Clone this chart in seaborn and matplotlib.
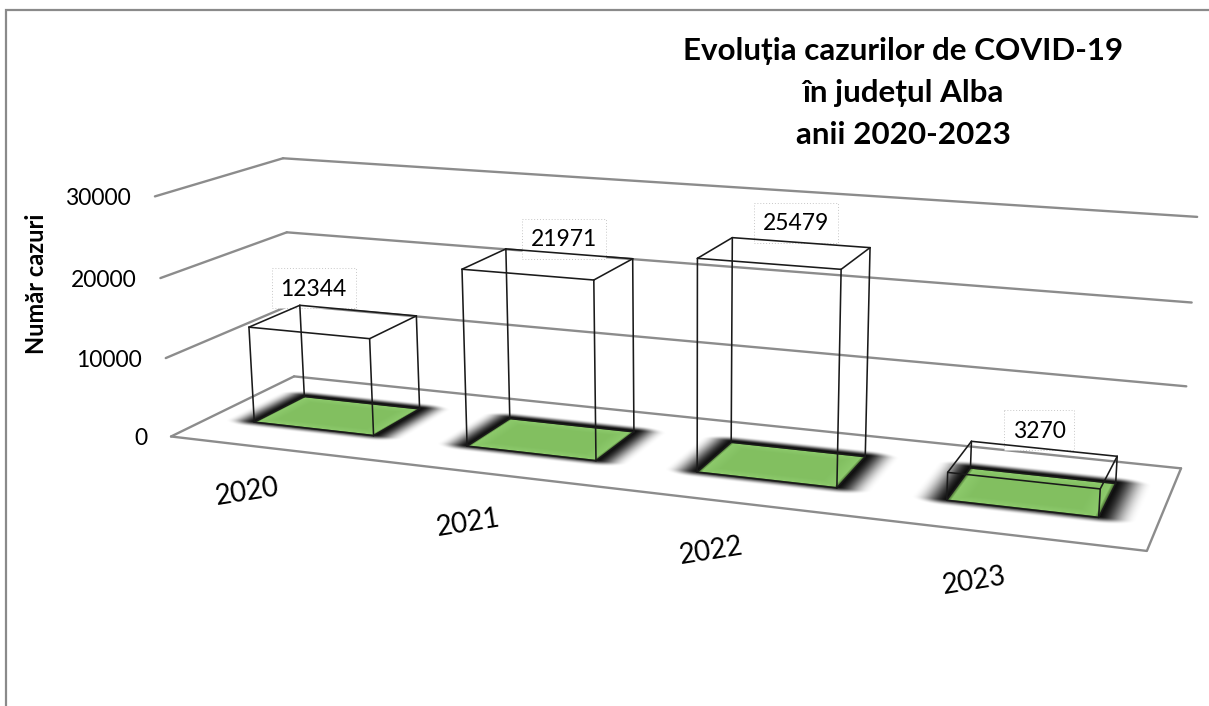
import numpy as np
import pandas as pd
import matplotlib
matplotlib.use('Agg')
import matplotlib.pyplot as plt
from matplotlib.patches import Rectangle
import seaborn as sns

# chart data
YEARS = ['2020', '2021', '2022', '2023']
CASES = [12344, 21971, 25479, 3270]
AXIS_TICKS = [0, 10000, 20000, 30000]
AXIS_MAX = 30000
TITLE_LINES = ['Evoluția cazurilor de COVID-19', 'în județul Alba', 'anii 2020-2023']
Y_LABEL = 'Număr cazuri'

# layout: where the corners of the 3D box sit in the image (u, v, height share, px, py)
BOX_CORNERS = [
    (0, 0, 1, 155, 197), (0, 0, 2 / 3, 160, 278), (0, 0, 1 / 3, 166, 358), (0, 0, 0, 171, 436),
    (0, 1, 1, 283, 158), (0, 1, 2 / 3, 287, 232), (0, 1, 0, 294, 377),
    (4, 1, 1, 1197, 217), (4, 1, 2 / 3, 1192, 302), (4, 1, 1 / 3, 1186, 387), (4, 1, 0, 1181, 468),
    (4, 0, 0, 1147, 551),
]
BAR_HALF_WIDTH = 0.285
BAR_DEPTH = (0.30, 0.72)
LABEL_OFFSETS = [(-20, -33), (16, -25), (11, -30), (6, -34)]
TICK_POS = [(247, 492), (468, 523), (711, 551), (974, 581)]
TITLE_Y = [51, 93, 135]

GRID_COLOR = '#8c8c8c'
WIRE_COLOR = '#1a1a1a'
GREEN = np.array([0.51, 0.75, 0.38])
GREEN_LIGHT = np.array([0.55, 0.79, 0.42])
GREEN_DARK = np.array([0.24, 0.38, 0.15])
FONT = 'Lato'


def fit_camera(corners):
    rows, rhs = [], []
    for u, v, h, px, py in corners:
        rows.append([u, v, h, 1, 0, 0, 0, 0, -px * u, -px * v, -px * h])
        rhs.append(px)
        rows.append([0, 0, 0, 0, u, v, h, 1, -py * u, -py * v, -py * h])
        rhs.append(py)
    sol = np.linalg.lstsq(np.array(rows, float), np.array(rhs, float), rcond=None)[0]
    return np.append(sol, 1.0).reshape(3, 4)


CAM = fit_camera(BOX_CORNERS)


def project(u, v, value):
    p = CAM @ np.array([u, v, value / AXIS_MAX, 1.0])
    return p[0] / p[2], p[1] / p[2]


def edges_frame(segments):
    # long table for sns.lineplot, one unit per drawn edge
    recs = []
    for i, seg in enumerate(segments):
        for order, pt in enumerate(seg):
            px, py = project(*pt)
            recs.append({'edge': i, 'order': order, 'px': px, 'py': py})
    return pd.DataFrame(recs)


def floor_image(width, height):
    # shadow + green base of the bars, rendered in floor coordinates
    xx, yy = np.meshgrid(np.arange(width) + 0.5, np.arange(height) + 0.5)
    inv = np.linalg.inv(CAM[:, [0, 1, 3]])
    w = inv[2, 0] * xx + inv[2, 1] * yy + inv[2, 2]
    u = (inv[0, 0] * xx + inv[0, 1] * yy + inv[0, 2]) / w
    v = (inv[1, 0] * xx + inv[1, 1] * yy + inv[1, 2]) / w

    img = np.zeros((height, width, 4))
    vc = sum(BAR_DEPTH) / 2
    hd = (BAR_DEPTH[1] - BAR_DEPTH[0]) / 2
    for i in range(len(YEARS)):
        du = np.abs(u - (i + 0.5)) - BAR_HALF_WIDTH
        dv = np.abs(v - vc) - hd
        # shadow box sits a little towards the back and is softer along the width
        dvs = np.abs(v - (vc + 0.012)) - hd
        dist = np.hypot(np.clip(du, 0, None) / 1.7, np.clip(dvs, 0, None))
        t = np.clip(dist / 0.085, 0, 1)
        alpha = 0.95 * (1 - t * t * (3 - 2 * t)) ** 1.3
        outside = (du > 0) | (dv > 0)
        img[..., 3][outside] = np.maximum(img[..., 3][outside], alpha[outside])

        inside = ~outside
        inset = np.minimum(-du, -dv)[inside]
        a = np.clip(inset / 0.016, 0, 1)[:, None]
        b = np.clip((inset - 0.016) / 0.06, 0, 1)[:, None]
        col = (GREEN_DARK * (1 - a) + GREEN_LIGHT * a) * (1 - b) + GREEN * b
        img[inside, 0] = col[:, 0]
        img[inside, 1] = col[:, 1]
        img[inside, 2] = col[:, 2]
        img[inside, 3] = 1.0
    return img


def main():
    sns.set_theme(style='white')
    plt.rcParams['font.family'] = [FONT, 'DejaVu Sans']

    W, H = 1209, 706
    fig = plt.figure(figsize=(W / 100, H / 100), dpi=100)
    ax = fig.add_axes([0, 0, 1, 1])

    # outer frame of the chart, only left and top are visible
    ax.plot([6, 6, W], [H, 10, 10], color='#8a8a8a', lw=1.6, zorder=1, solid_joinstyle='miter')

    # walls and floor
    segs = []
    for t in AXIS_TICKS:
        segs.append([(0, 0, t), (0, 1, t)])
        segs.append([(0, 1, t), (4, 1, t)])
    segs.append([(0, 0, 0), (4, 0, 0), (4, 1, 0)])
    df = edges_frame(segs)
    sns.lineplot(data=df, x='px', y='py', units='edge', estimator=None, sort=False,
                 color=GRID_COLOR, lw=1.7, ax=ax, legend=False, zorder=2)

    ax.imshow(floor_image(W, H), extent=(0, W, H, 0), interpolation='bilinear', zorder=3, aspect='auto')

    # value labels with their faint dotted box
    for i, val in enumerate(CASES):
        cx, cy = project(i + 0.5, sum(BAR_DEPTH) / 2, val)
        lx = cx + LABEL_OFFSETS[i][0]
        ly = cy + LABEL_OFFSETS[i][1]
        txt = str(val)
        bw = 14 * len(txt) + 14
        ax.add_patch(Rectangle((lx - bw / 2, ly - 20), bw, 40, facecolor='white', edgecolor='#c8c8c8',
                               lw=0.7, ls=(0, (1, 2)), zorder=4))
        ax.text(lx, ly + 1, txt, ha='center', va='center', fontsize=16.5, color='black', zorder=7)

    # bars as wire boxes
    segs = []
    for i, val in enumerate(CASES):
        u0, u1 = i + 0.5 - BAR_HALF_WIDTH, i + 0.5 + BAR_HALF_WIDTH
        v0, v1 = BAR_DEPTH
        foot = [(u0, v0), (u1, v0), (u1, v1), (u0, v1)]
        for k in range(4):
            a, b = foot[k], foot[(k + 1) % 4]
            segs.append([(a[0], a[1], val), (b[0], b[1], val)])
            segs.append([(a[0], a[1], 0), (b[0], b[1], 0)])
            segs.append([(a[0], a[1], 0), (a[0], a[1], val)])
    df = edges_frame(segs)
    sns.lineplot(data=df, x='px', y='py', units='edge', estimator=None, sort=False,
                 color=WIRE_COLOR, lw=1.15, ax=ax, legend=False, zorder=6)

    # axis texts
    for t in AXIS_TICKS:
        px, py = project(0, 0, t)
        ax.text(px - 24, py + 2, str(t), ha='right', va='center', fontsize=16.5, color='black')
    for year, (px, py) in zip(YEARS, TICK_POS):
        ax.text(px, py, year, ha='center', va='center', rotation=9, rotation_mode='anchor',
                fontsize=20, color='black')
    ax.text(36, 284, Y_LABEL, ha='center', va='center', rotation=90, fontsize=17,
            fontweight='bold', color='black')
    for line, y in zip(TITLE_LINES, TITLE_Y):
        ax.text(903, y, line, ha='center', va='center', fontsize=22.6, fontweight='bold', color='black')

    ax.set_xlim(0, W)
    ax.set_ylim(H, 0)
    ax.axis('off')
    ax.set_xlabel('')
    ax.set_ylabel('')
    fig.savefig('out.png', dpi=100)
    plt.close(fig)


if __name__ == '__main__':
    main()
